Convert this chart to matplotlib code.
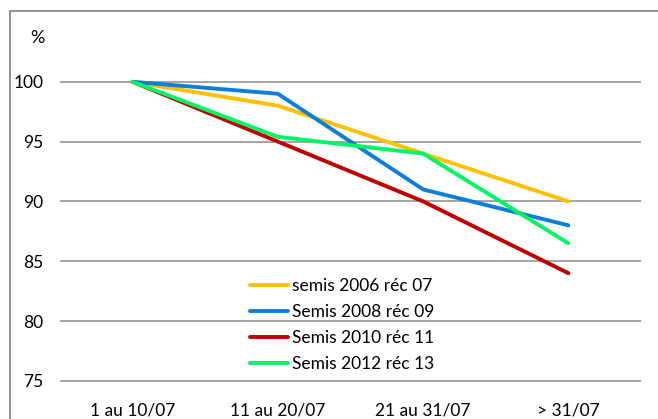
import matplotlib.pyplot as plt
from matplotlib.patches import Rectangle

categories = ['1 au 10/07', '11 au 20/07', '21 au 31/07', '> 31/07']
semis_2006 = [100, 98, 94, 90]
semis_2008 = [100, 99, 91, 88]
semis_2010 = [100, 95, 90, 84]
semis_2012 = [100, 95.4, 94, 86.5]
yticks = [75, 80, 85, 90, 95, 100]

plt.rcParams['font.family'] = ['Lato', 'DejaVu Sans']

W, H = 658, 419
fig = plt.figure(figsize=(W / 100, H / 100), dpi=100)
ax = fig.add_axes([60 / W, 1 - 382 / H, (641 - 60) / W, (382 - 22) / H])

# outer chart frame
fig.patches.append(Rectangle((10 / W, -0.02), 1.1, 1 - 11 / H + 0.02, transform=fig.transFigure,
                             fill=False, edgecolor='#7f7f7f', linewidth=1.2))

x = range(len(categories))
lw = 2.8
ax.plot(x, semis_2006, color='#FFC000', linewidth=lw, label='semis 2006 réc 07', solid_capstyle='round')
ax.plot(x, semis_2008, color='#0A7ED8', linewidth=lw, label='Semis 2008 réc 09', solid_capstyle='round')
ax.plot(x, semis_2010, color='#C00000', linewidth=lw, label='Semis 2010 réc 11', solid_capstyle='round')
ax.plot(x, semis_2012, color='#00F566', linewidth=lw, label='Semis 2012 réc 13', solid_capstyle='round')

ax.set_xlim(-0.5, len(categories) - 0.5)
ax.set_ylim(74.9, 105)
ax.set_yticks(yticks)
ax.set_xticks(list(x))
ax.set_xticklabels(categories)
ax.tick_params(axis='both', length=0, labelsize=12.5, colors='black')
ax.tick_params(axis='x', pad=15)
ax.tick_params(axis='y', pad=12)
ax.yaxis.grid(True, color='#8c8c8c', linewidth=1.1)
ax.set_axisbelow(True)
for s in ax.spines.values():
    s.set_visible(False)

fig.text(37 / W, 1 - 38 / H, '%', fontsize=13, ha='center', va='center')

leg = ax.legend(loc='upper left', bbox_to_anchor=((250 - 60) / (641 - 60), (382 - 278) / 360),
                frameon=False, fontsize=12.5, handlelength=2.2, handletextpad=0.2,
                labelspacing=0.58, borderaxespad=0, borderpad=0)

fig.savefig('out.png', dpi=100)
